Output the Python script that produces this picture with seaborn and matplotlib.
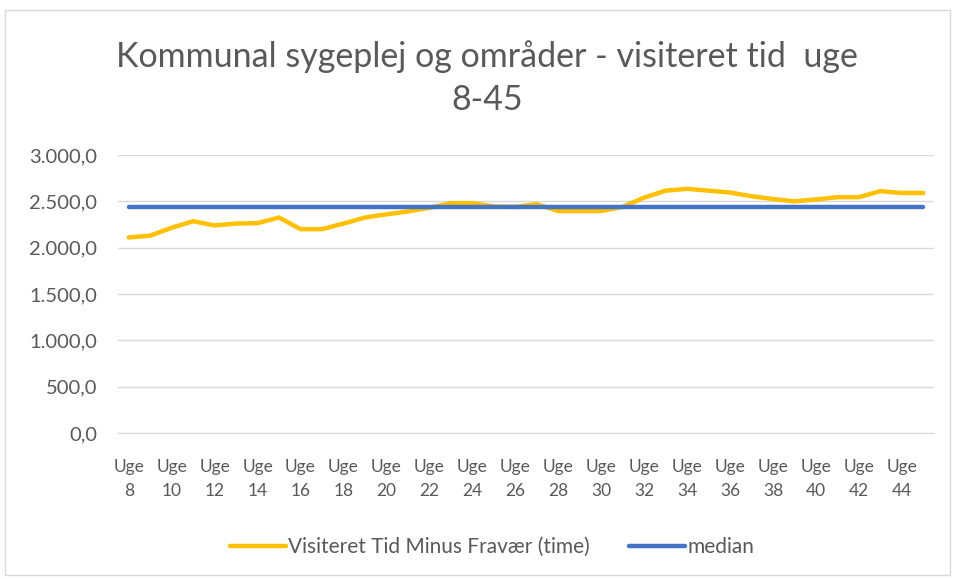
import numpy as np
import pandas as pd
import matplotlib
matplotlib.use("Agg")
import matplotlib.pyplot as plt
import seaborn as sns
from matplotlib.ticker import FuncFormatter
from matplotlib.patches import Rectangle

# data
weeks = list(range(8, 46))
visiteret = [2110, 2130, 2215, 2285, 2240, 2260, 2265, 2325, 2200, 2200,
             2260, 2325, 2360, 2390, 2430, 2480, 2480, 2445, 2440, 2470,
             2395, 2395, 2395, 2440, 2540, 2615, 2635, 2615, 2595, 2555,
             2525, 2500, 2520, 2545, 2545, 2610, 2590, 2590]
median_value = 2436
median = [median_value] * len(weeks)
tick_weeks = list(range(8, 46, 2))
tick_labels = ["Uge\n" + str(w) for w in tick_weeks]

df = pd.DataFrame({"uge": weeks, "Visiteret Tid Minus Fravær (time)": visiteret, "median": median})
long_df = df.melt(id_vars="uge", var_name="serie", value_name="timer")

sns.set_style("white")
plt.rcParams["font.family"] = ["Lato", "DejaVu Sans"]
text_color = "#595959"

fig = plt.figure(figsize=(9.55, 5.79), dpi=100)
ax = fig.add_axes([118 / 955, 1 - 433 / 579, (934 - 118) / 955, (433 - 155) / 579])

sns.lineplot(data=long_df, x="uge", y="timer", hue="serie",
             palette=["#FFC000", "#4472C4"], linewidth=3.2, ax=ax, legend=False)

ax.set_xlim(7.5, 45.5)
ax.set_ylim(0, 3000)
ax.set_yticks(np.arange(0, 3001, 500))
ax.yaxis.set_major_formatter(FuncFormatter(
    lambda v, p: "{:,.1f}".format(v).replace(",", "X").replace(".", ",").replace("X", ".")))
ax.set_xticks(tick_weeks)
ax.set_xticklabels(tick_labels, linespacing=1.55)
ax.tick_params(axis="both", length=0, colors=text_color)
ax.tick_params(axis="y", pad=15, labelsize=14.5)
ax.tick_params(axis="x", pad=19, labelsize=12.5)
ax.set_xlabel(None)
ax.set_ylabel(None)
ax.grid(axis="y", color="#d9d9d9", linewidth=1)
for s in ["top", "right", "left"]:
    ax.spines[s].set_visible(False)
ax.spines["bottom"].set_color("#d9d9d9")

# legend
handles = [plt.Line2D([], [], color="#FFC000", linewidth=3.2),
           plt.Line2D([], [], color="#4472C4", linewidth=3.2)]
fig.legend(handles, ["Visiteret Tid Minus Fravær (time)", "median"],
           loc="center", bbox_to_anchor=(492 / 955, 1 - 547 / 579), ncol=2,
           frameon=False, fontsize=15, labelcolor=text_color,
           handlelength=2.7, handletextpad=0.1, columnspacing=1.9)

fig.text(487 / 955, 1 - 78 / 579, "Kommunal sygeplej og områder - visiteret tid  uge\n8-45",
         ha="center", va="center", fontsize=24.5, color=text_color, linespacing=1.42)

fig.patches.append(Rectangle((5 / 955, 4 / 579), 945 / 955, 565 / 579, transform=fig.transFigure,
                             fill=False, edgecolor="#d9d9d9", linewidth=1))

fig.savefig("out.png", dpi=100)
